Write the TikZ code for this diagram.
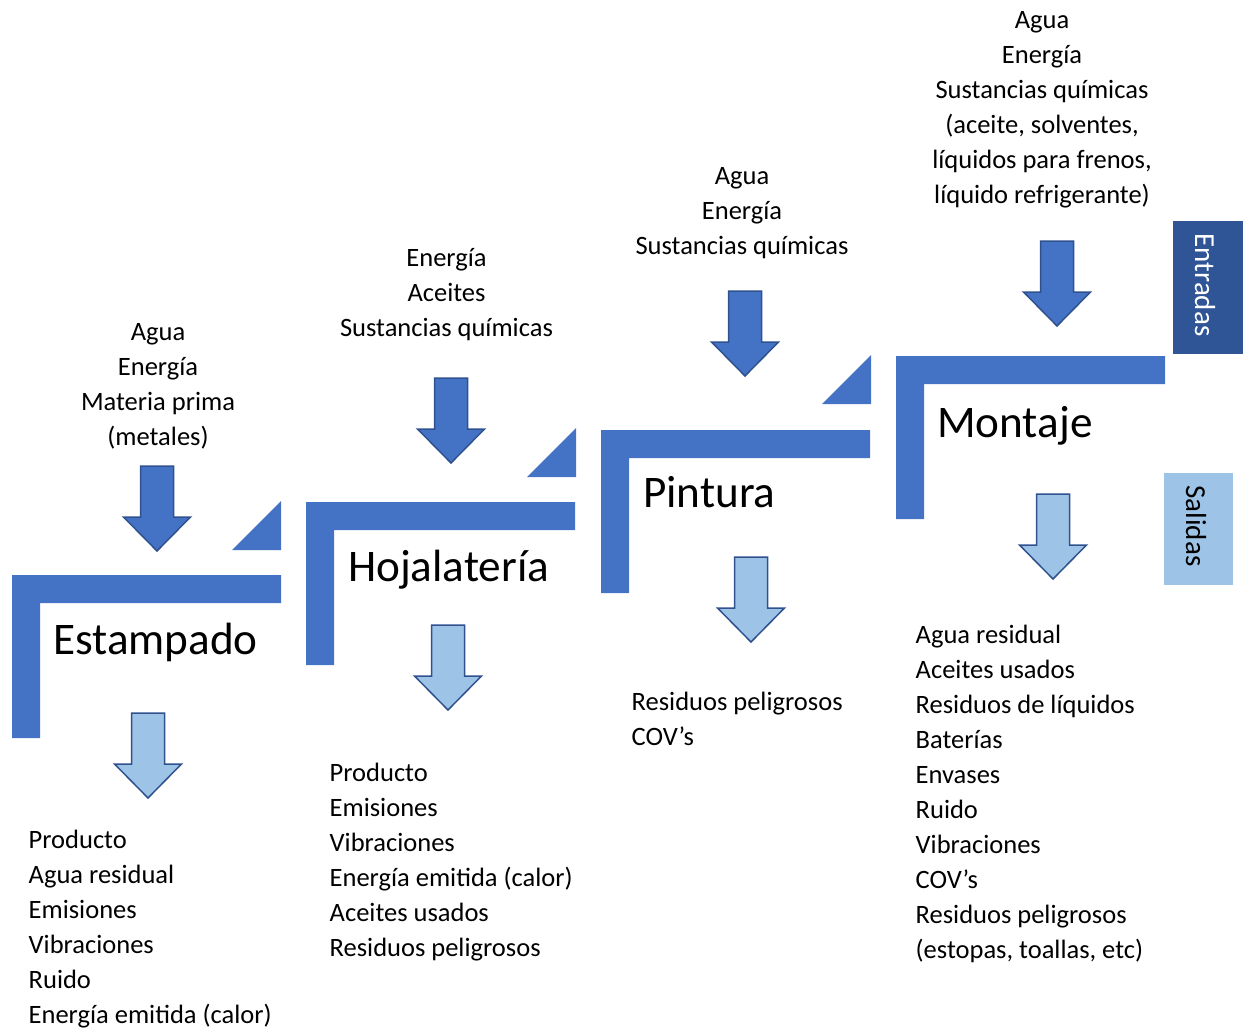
\documentclass[tikz,border=0pt]{standalone}
\usepackage{fontspec}
\setmainfont{Carlito}
\definecolor{barblue}{HTML}{4472C4}
\definecolor{edgeblue}{HTML}{2F528F}
\definecolor{lightblue}{HTML}{9DC3E6}
\definecolor{darkblue}{HTML}{2F5597}
\tikzset{
  % multi-line blocks are placed by the baseline of their last line
  listtext/.style={inner sep=0pt, align=left, anchor=base west,
    font=\fontsize{26.5}{35}\selectfont},
  intext/.style={inner sep=0pt, align=center, anchor=base,
    font=\fontsize{26.5}{35}\selectfont},
  stagetext/.style={inner sep=0pt, anchor=base west,
    font=\fontsize{45.2}{50}\selectfont},
  legendtext/.style={inner sep=0pt, rotate=-90,
    font=\fontsize{29}{34}\selectfont},
  % block arrow pointing down; origin at the top centre of the shaft
  blockarrow/.pic={
    \path[pic actions, line width=1.5pt, line join=miter]
      (-16.5,0) -- (16.5,0) -- (16.5,51) -- (33.5,51) -- (0,85)
      -- (-33.5,51) -- (-16.5,51) -- cycle;
  },
  inarrow/.style={fill=barblue, draw=edgeblue},
  outarrow/.style={fill=lightblue, draw=edgeblue},
}
\begin{document}
\begin{tikzpicture}[x=1pt, y=-1pt]
\useasboundingbox (0,0) rectangle (1243,1028);

% stage brackets and corner triangles
\foreach \sx/\sy in {12/575, 306/502, 601/430, 896/356}{
  \fill[barblue] (\sx,\sy) -- ++(269,0) -- ++(0,28) -- ++(-241,0)
    -- ++(0,135) -- ++(-28,0) -- cycle;
}
\foreach \tx/\ty in {281/550, 576/477, 871/404}{
  \fill[barblue] (\tx-49,\ty) -- (\tx,\ty) -- (\tx,\ty-49) -- cycle;
}

% stage names
\node[stagetext] (est) at (53,654) {Estampado};
\node[stagetext] (hoj) at (348,581) {Hojalatería};
\node[stagetext] (pin) at (643,507) {Pintura};
\node[stagetext] (mon) at (937,437) {Montaje};

% input arrows
\pic[inarrow] at (157,466) {blockarrow};
\pic[inarrow] at (451,378) {blockarrow};
\pic[inarrow] at (745,291) {blockarrow};
\pic[inarrow] at (1057,241) {blockarrow};

% output arrows
\pic[outarrow] at (148,713) {blockarrow};
\pic[outarrow] at (448,625) {blockarrow};
\pic[outarrow] at (751,557) {blockarrow};
\pic[outarrow] at (1053,494) {blockarrow};

% inputs
\node[intext] (inest) at (158,445) {Agua\\Energía\\Materia prima\\(metales)};
\node[intext] (inhoj) at (446.5,336.5) {Energía\\Aceites\\Sustancias químicas};
\node[intext] (inpin) at (742,254.5) {Agua\\Energía\\Sustancias químicas};
\node[intext] (inmon) at (1042,203) {Agua\\Energía\\Sustancias químicas\\(aceite, solventes,\\líquidos para frenos,\\líquido refrigerante)};

% outputs
\node[listtext] (outest) at (28.5,1023) {Producto\\Agua residual\\Emisiones\\Vibraciones\\Ruido\\Energía emitida (calor)};
\node[listtext] (outhoj) at (329.5,956) {Producto\\Emisiones\\Vibraciones\\Energía emitida (calor)\\Aceites usados\\Residuos peligrosos};
\node[listtext] (outpin) at (631.5,745) {Residuos peligrosos\\COV’s};
\node[listtext] (outmon) at (915.5,958) {Agua residual\\Aceites usados\\Residuos de líquidos\\Baterías\\Envases\\Ruido\\Vibraciones\\COV’s\\Residuos peligrosos\\(estopas, toallas, etc)};

% legend
\fill[darkblue] (1173,221) rectangle (1243,354);
\node[legendtext, text=white] (entradas) at (1205,285) {Entradas};
\fill[lightblue] (1164,473) rectangle (1233,585);
\node[legendtext] (salidas) at (1196,526) {Salidas};
\end{tikzpicture}
\end{document}
